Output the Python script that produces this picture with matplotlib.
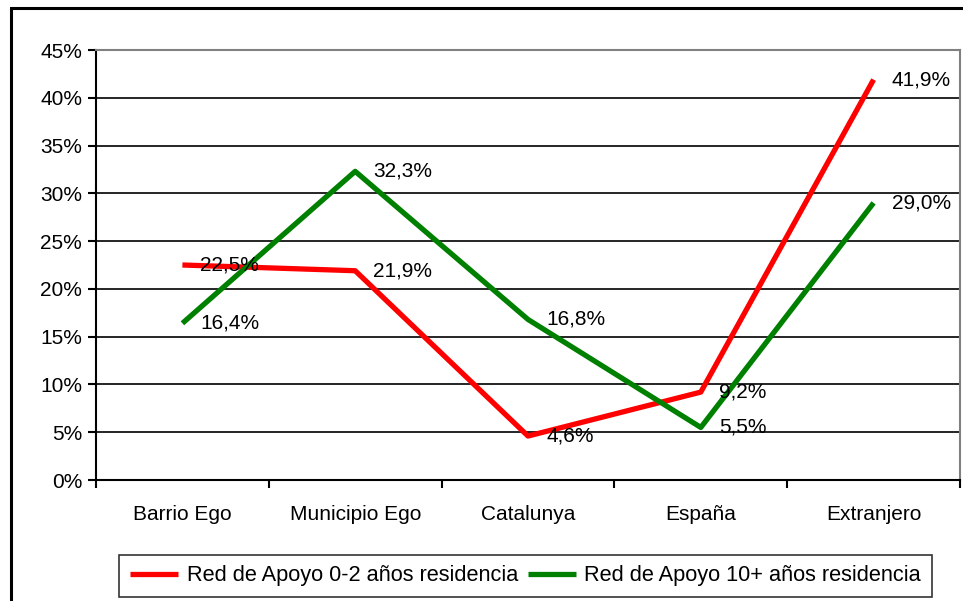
import matplotlib
matplotlib.use("Agg")
import matplotlib.pyplot as plt
from matplotlib.patches import Rectangle
import numpy as np

plt.rcParams['font.family'] = ['Liberation Sans', 'DejaVu Sans']

categories = ["Barrio Ego", "Municipio Ego", "Catalunya", "España", "Extranjero"]
red_vals = [22.5, 21.9, 4.6, 9.2, 41.9]
green_vals = [16.4, 32.3, 16.8, 5.5, 29.0]
series_names = ["Red de Apoyo 0-2 años residencia", "Red de Apoyo 10+ años residencia"]
yticks = [0, 5, 10, 15, 20, 25, 30, 35, 40, 45]

W, H = 963, 601
fig = plt.figure(figsize=(W / 100, H / 100), dpi=100)
ax = fig.add_axes([96 / W, 1 - 480 / H, 864 / W, 430 / H])

x = np.arange(len(categories))
ax.set_xlim(-0.5, len(categories) - 0.5)
ax.set_ylim(0, 45)

for yv in yticks[1:-1]:
    ax.axhline(yv, color='black', lw=1.2, zorder=1)

ax.plot(x, red_vals, color='#FF0000', lw=3.8, zorder=3, label=series_names[0], solid_capstyle='butt')
ax.plot(x, green_vals, color='#008000', lw=3.8, zorder=3, label=series_names[1], solid_capstyle='butt')

fs = 15
for xi, v in zip(x, red_vals):
    ax.annotate(f"{v:.1f}%".replace('.', ','), (xi, v), xytext=(18, 0), textcoords='offset pixels',
                va='center', ha='left', fontsize=fs, zorder=4)
for xi, v in zip(x, green_vals):
    ax.annotate(f"{v:.1f}%".replace('.', ','), (xi, v), xytext=(18, 0), textcoords='offset pixels',
                va='center', ha='left', fontsize=fs, zorder=4)

ax.set_yticks(yticks)
ax.set_yticklabels([f"{t}%" for t in yticks], fontsize=fs)
ax.set_xticks(np.arange(len(categories) + 1) - 0.5)
ax.set_xticklabels([])
ax.set_xticks(x, minor=True)
ax.set_xticklabels(categories, minor=True, fontsize=fs)
ax.tick_params(axis='x', which='minor', length=0, pad=18)
ax.tick_params(axis='x', which='major', length=6, width=1.5, direction='out')
ax.tick_params(axis='y', length=6, width=1.5, direction='out', pad=4)

for s in ['left', 'bottom']:
    ax.spines[s].set_color('black')
    ax.spines[s].set_linewidth(1.5)
for s in ['top', 'right']:
    ax.spines[s].set_color('#808080')
    ax.spines[s].set_linewidth(1.5)

leg = fig.legend(loc='center', bbox_to_anchor=(525.5 / W, 1 - 576 / H), ncol=2, fontsize=15.7,
                 frameon=True, fancybox=False, edgecolor='black', handlelength=2.2,
                 handletextpad=0.4, columnspacing=0.45, borderpad=0.5)
leg.get_frame().set_linewidth(1.2)

fig.patches.append(Rectangle((11 / W, -0.1), 1.2, 1 - 8 / H + 0.1, transform=fig.transFigure,
                             fill=False, edgecolor='black', lw=2.2))

fig.savefig("out.png", dpi=100)
